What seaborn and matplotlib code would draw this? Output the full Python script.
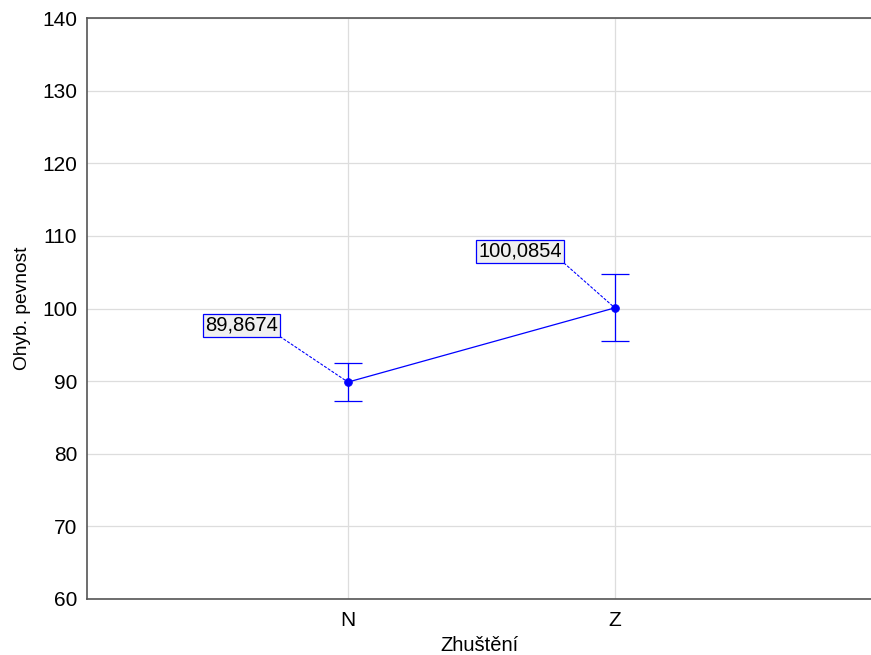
import matplotlib
matplotlib.use("Agg")
import matplotlib.pyplot as plt
import seaborn as sns
import pandas as pd

categories = ["N", "Z"]
means = [89.8674, 100.0854]
lower = [87.25, 95.5]
upper = [92.5, 104.75]
labels = ["89,8674", "100,0854"]

sns.set_theme(style="white")
plt.rcParams['font.family'] = ['Liberation Sans', 'DejaVu Sans']

df = pd.DataFrame({"Zhuštění": categories, "Ohyb. pevnost": means})

fig = plt.figure(figsize=(8.71, 6.55), dpi=100)
ax = fig.add_axes([87/871, 1-599/655, 1-87/871, (599-18)/655])

blue = "#0000ff"

sns.pointplot(data=df, x="Zhuštění", y="Ohyb. pevnost", color=blue, errorbar=None,
              markers="o", markersize=5, linewidth=0.9, ax=ax)
for ln in ax.lines:
    ln.set_linewidth(0.9)
    ln.set_markersize(5.5)

ax.grid(True, axis="both", color="#dddddd", linewidth=0.9)
ax.set_axisbelow(True)

xs = list(range(len(categories)))
yerr = [[m - l for m, l in zip(means, lower)], [u - m for m, u in zip(means, upper)]]
ax.errorbar(xs, means, yerr=yerr, fmt="none", ecolor=blue, elinewidth=0.9,
            capsize=10, capthick=0.9, zorder=3)

offsets = [(-0.40, 97.66), (0.644, 107.85)]
for x, m, lab, (tx, ty) in zip(xs, means, labels, offsets):
    ax.annotate(lab, xy=(x, m), xytext=(tx, ty), ha="center", va="center",
                fontsize=14.5, color="black",
                bbox=dict(boxstyle="square,pad=0.1", fc="#f0f0f0", ec=blue, lw=0.9),
                arrowprops=dict(arrowstyle="-", color=blue, lw=0.8, linestyle=(0, (2, 2)),
                                relpos=(1, 0), shrinkA=0, shrinkB=2))

ax.set_xlim(-0.978, 1.96)
ax.set_ylim(60, 140)
ax.set_yticks(range(60, 141, 10))
ax.tick_params(axis="both", direction="in", length=4, color="#555555",
               labelsize=15, pad=9, labelcolor="black")
ax.tick_params(axis="y", pad=7)
for side in ["left", "top", "bottom"]:
    ax.spines[side].set_color("#555555")
    ax.spines[side].set_linewidth(1.2)
ax.spines["right"].set_visible(False)
ax.set_xlabel("Zhuštění", fontsize=14.5, labelpad=4, color="black")
ax.set_ylabel("Ohyb. pevnost", fontsize=13.8, labelpad=8, color="black")

fig.savefig("out.png", dpi=100)
